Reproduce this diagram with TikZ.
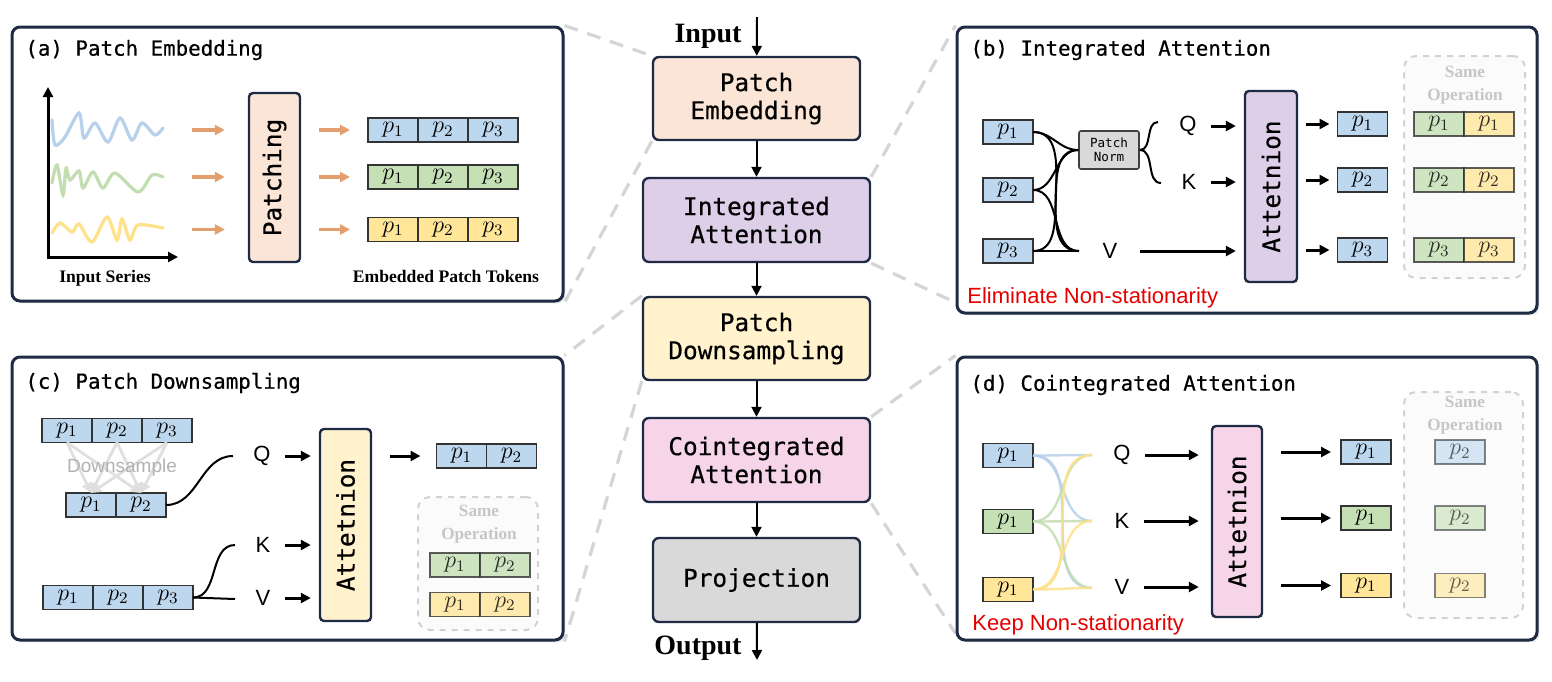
\documentclass[tikz,border=0pt]{standalone}
\usepackage{fontspec}
\usetikzlibrary{positioning,arrows.meta,shadows,backgrounds}

\newfontfamily\monofam{DejaVu Sans Mono}[BoldFont={DejaVu Sans Mono}, BoldFeatures={FakeBold=0.5}]
\newfontfamily\sansfam{Liberation Sans}
\newfontfamily\serifam{Liberation Serif}

\newcommand{\stagefont}{\monofam\bfseries\fontsize{12.2}{14}\selectfont}
\newcommand{\titlefont}{\monofam\bfseries\fontsize{10.4}{12}\selectfont}
\newcommand{\normfont}{\monofam\fontsize{6.3}{7}\selectfont}
\newcommand{\tokfont}{\fontsize{11.5}{12}\selectfont}
\newcommand{\qkvfont}{\sansfam\fontsize{11}{12}\selectfont}
\newcommand{\notefont}{\sansfam\fontsize{11}{12}\selectfont}
\newcommand{\downfont}{\sansfam\fontsize{9.5}{11}\selectfont}
\newcommand{\capfont}{\serifam\bfseries\fontsize{8.8}{10}\selectfont}
\newcommand{\iofont}{\serifam\bfseries\fontsize{14}{16}\selectfont}
\newcommand{\samefont}{\serifam\bfseries\fontsize{8.6}{11.5}\selectfont}

\definecolor{navy}{HTML}{1F2A44}
\definecolor{tokblue}{HTML}{BDD7EE}
\definecolor{tokgreen}{HTML}{C5E0B4}
\definecolor{tokyellow}{HTML}{FFE699}
\definecolor{peach}{HTML}{FBE5D6}
\definecolor{lavender}{HTML}{DDCFE7}
\definecolor{cream}{HTML}{FFF2CC}
\definecolor{pink}{HTML}{F6D5E8}
\definecolor{lightgray}{HTML}{D9D9D9}
\definecolor{arrorange}{HTML}{E3A06E}
\definecolor{dashgray}{HTML}{D5D5D5}
\definecolor{waveblue}{HTML}{B7D0EC}
\definecolor{wavegreen}{HTML}{C2DDB0}
\definecolor{waveyellow}{HTML}{FFE189}

\tikzset{
  panel/.style={draw=navy, line width=1.5pt, rounded corners=4pt, fill=white,
    drop shadow={shadow xshift=1.2pt, shadow yshift=-1.2pt, opacity=0.18}},
  stage/.style={draw=navy, line width=1.2pt, rounded corners=3pt, align=center,
    inner sep=0pt, font=\stagefont},
  attn/.style={draw=navy, line width=1.2pt, rounded corners=2pt, rotate=90,
    inner sep=0pt, font=\stagefont},
  tok/.style={draw=black!80, line width=0.7pt, minimum width=25pt,
    minimum height=12pt, inner sep=0pt, outer sep=0pt, font=\tokfont},
  ptitle/.style={anchor=west, inner sep=0pt, font=\titlefont},
  qkv/.style={inner xsep=7pt, inner ysep=0pt, font=\qkvfont},
  qarr/.style={->, line width=1.5pt, shorten >=4pt},
  link/.style={line width=1pt},
  flow/.style={line width=1.2pt, draw opacity=0.85},
  mainarr/.style={->, line width=1pt},
  oarr/.style={->, draw=arrorange, line width=1.6pt},
  zoomline/.style={draw=dashgray, line width=1.6pt, dash pattern=on 7pt off 5pt},
  samebox/.style={draw=gray!35, dashed, line width=1pt, rounded corners=6pt, fill=gray!3},
  samelbl/.style={align=center, text=gray!45, font=\samefont},
  note/.style={anchor=west, inner sep=0pt, text=red!90!black, font=\notefont},
  caption/.style={font=\capfont},
  wave/.style={line width=1.6pt, line cap=round},
  dsarr/.style={->, draw=gray!25, line width=1.4pt}
}

\begin{document}
\begin{tikzpicture}[x=0.5pt, y=-0.5pt, >={Triangle[length=5pt,width=5pt]}]
\useasboundingbox (0,0) rectangle (1552,681);

% panels
\node[panel, minimum width=275.5pt, minimum height=137pt] (pa) at (287.5,164) {};
\node[panel, minimum width=290pt, minimum height=143pt] (pb) at (1247,170) {};
\node[panel, minimum width=275.5pt, minimum height=141.5pt] (pc) at (287.5,498.5) {};
\node[panel, minimum width=290pt, minimum height=141.5pt] (pd) at (1247,498.5) {};

% main column
\node[stage, fill=peach, minimum width=103.5pt, minimum height=41.5pt] (emb) at (756.5,98.5) {Patch\\Embedding};
\node[stage, fill=lavender, minimum width=113.5pt, minimum height=42pt] (integ) at (756.5,220) {Integrated\\Attention};
\node[stage, fill=cream, minimum width=113.5pt, minimum height=41.5pt] (down) at (756.5,338.5) {Patch\\Downsampling};
\node[stage, fill=pink, minimum width=113.5pt, minimum height=42pt] (coint) at (756.5,460) {Cointegrated\\Attention};
\node[stage, fill=lightgray, minimum width=103.5pt, minimum height=42pt] (proj) at (756.5,580) {Projection};

\coordinate (inpt) at (757,17);
\coordinate (outpt) at (757,660);
\node[font=\iofont] (inlbl) at (708,36) {Input};
\node[font=\iofont] (outlbl) at (698,648) {Output};
\draw[mainarr] (inpt) -- (emb);
\draw[mainarr] (emb) -- (integ);
\draw[mainarr] (integ) -- (down);
\draw[mainarr] (down) -- (coint);
\draw[mainarr] (coint) -- (proj);
\draw[mainarr] (proj) -- (outpt);

% zoom lines
\begin{scope}[on background layer]
\draw[zoomline] (pa.north east) -- (emb.north west);
\draw[zoomline] (emb.south west) -- (pa.south east);
\draw[zoomline] (integ.north east) -- (pb.north west);
\draw[zoomline] (integ.south east) -- ([yshift=6pt]pb.south west);
\draw[zoomline] (down.north west) -- (pc.north east);
\draw[zoomline] (down.south west) -- (pc.south east);
\draw[zoomline] (coint.north east) -- (pd.north west);
\draw[zoomline] (coint.south east) -- ([yshift=4pt]pd.south west);
\end{scope}

% (a) patch embedding
\node[ptitle] (ta) at (25,50) {(a) Patch Embedding};
\coordinate (orig) at (48,257);
\coordinate (ytip) at (48,87);
\coordinate (xtip) at (178,257);
\draw[<->, line width=1.5pt] (ytip) |- (xtip);
\draw[wave, draw=waveblue] plot[smooth] coordinates {(52,120) (55,145) (65,137) (79,113) (84,138) (95,123) (108,142) (120,118) (132,140) (142,123) (155,135) (163,128)};
\draw[wave, draw=wavegreen] plot[smooth] coordinates {(52,183) (57,165) (63,195) (66,168) (70,180) (79,171) (83,188) (93,172) (103,188) (115,173) (138,192) (152,175) (163,177)};
\draw[wave, draw=waveyellow] plot[smooth] coordinates {(52,233) (60,223) (72,232) (79,224) (92,242) (107,217) (117,240) (122,219) (130,240) (138,225) (163,228)};
\coordinate (wb) at (163,130);
\coordinate (wg) at (163,177);
\coordinate (wy) at (163,229.5);
\node[attn, fill=peach, minimum width=84.5pt, minimum height=25.5pt] (patch) at (274.5,177.5) {Patching};
\draw[oarr, shorten <=14.5pt, shorten >=11.5pt] (wb) -- (wb -| patch.north);
\draw[oarr, shorten <=14.5pt, shorten >=11.5pt] (wg) -- (wg -| patch.north);
\draw[oarr, shorten <=14.5pt, shorten >=11.5pt] (wy) -- (wy -| patch.north);
\node[tok, fill=tokblue] (ra1) at (393,130) {$p_1$};
\node[tok, fill=tokblue, right=0pt of ra1] (ra2) {$p_2$};
\node[tok, fill=tokblue, right=0pt of ra2] (ra3) {$p_3$};
\node[tok, fill=tokgreen] (rb1) at (393,177) {$p_1$};
\node[tok, fill=tokgreen, right=0pt of rb1] (rb2) {$p_2$};
\node[tok, fill=tokgreen, right=0pt of rb2] (rb3) {$p_3$};
\node[tok, fill=tokyellow] (rc1) at (393,229.5) {$p_1$};
\node[tok, fill=tokyellow, right=0pt of rc1] (rc2) {$p_2$};
\node[tok, fill=tokyellow, right=0pt of rc2] (rc3) {$p_3$};
\draw[oarr, shorten <=9pt, shorten >=9pt] (patch.south |- ra1) -- (ra1.west);
\draw[oarr, shorten <=9pt, shorten >=9pt] (patch.south |- rb1) -- (rb1.west);
\draw[oarr, shorten <=9pt, shorten >=9pt] (patch.south |- rc1) -- (rc1.west);
\node[caption] (capin) at (105,278) {Input Series};
\node[caption] (captok) at (446,276) {Embedded Patch Tokens};

% (b) integrated attention
\node[ptitle] (tb) at (970,50) {(b) Integrated Attention};
\node[tok, fill=tokblue] (bi1) at (1008,132) {$p_1$};
\node[tok, fill=tokblue] (bi2) at (1008,190) {$p_2$};
\node[tok, fill=tokblue] (bi3) at (1008,251) {$p_3$};
\node[draw=black!75, fill=lightgray, line width=0.8pt, rounded corners=1pt, minimum width=30pt, minimum height=19pt, inner sep=0pt, align=center, font=\normfont] (pn) at (1109,150) {Patch\\Norm};
\coordinate (vin) at (1079,251);
\coordinate (qin) at (1158,122);
\coordinate (kin) at (1161,183);
\draw[link] (bi1.east) to[out=0,in=180] (pn.west);
\draw[link] (bi1.east) to[out=0,in=180] (vin);
\draw[link] (bi2.east) to[out=0,in=180] (pn.west);
\draw[link] (bi2.east) to[out=0,in=180] (vin);
\draw[link] (bi3.east) to[out=0,in=180] (pn.west);
\draw[link] (bi3.east) -- (vin);
\draw[link] (pn.east) to[out=0,in=180] (qin);
\draw[link] (pn.east) to[out=0,in=180] (kin);
\node[qkv] (bq) at (1188,126) {Q};
\node[qkv] (bk) at (1189,182) {K};
\node[qkv] (bv) at (1110,251) {V};
\node[attn, fill=lavender, minimum width=95.5pt, minimum height=26pt] (batt) at (1271,186.5) {Attetnion};
\draw[qarr] (bq.east) -- (bq.east -| batt.north);
\draw[qarr] (bk.east) -- (bk.east -| batt.north);
\draw[qarr, shorten <=4pt] (bv.east) -- (bv.east -| batt.north);
\node[tok, fill=tokblue] (bo1) at (1362.5,124) {$p_1$};
\node[tok, fill=tokblue] (bo2) at (1362.5,180) {$p_2$};
\node[tok, fill=tokblue] (bo3) at (1362.5,250) {$p_3$};
\draw[qarr, shorten <=4pt] (batt.south |- bo1) -- (bo1.west);
\draw[qarr, shorten <=4pt] (batt.south |- bo2) -- (bo2.west);
\draw[qarr, shorten <=4pt] (batt.south |- bo3) -- (bo3.west);
\node[samebox, minimum width=60.5pt, minimum height=111pt] (bs) at (1464.5,167) {};
\node[samelbl] (bsl) at (1465,85) {Same\\Operation};
\node[tok, fill=tokgreen, opacity=0.8] (bs1a) at (1439,124) {$p_1$};
\node[tok, fill=tokyellow, opacity=0.8, right=0pt of bs1a] (bs1b) {$p_1$};
\node[tok, fill=tokgreen, opacity=0.8] (bs2a) at (1439,180) {$p_2$};
\node[tok, fill=tokyellow, opacity=0.8, right=0pt of bs2a] (bs2b) {$p_2$};
\node[tok, fill=tokgreen, opacity=0.8] (bs3a) at (1439,250) {$p_3$};
\node[tok, fill=tokyellow, opacity=0.8, right=0pt of bs3a] (bs3b) {$p_3$};
\node[note] (bnote) at (967,298) {Eliminate Non-stationarity};

% (c) patch downsampling
\node[ptitle] (tc) at (25,383) {(c) Patch Downsampling};
\node[tok, fill=tokblue] (ct1) at (67,430.5) {$p_1$};
\node[tok, fill=tokblue, right=0pt of ct1] (ct2) {$p_2$};
\node[tok, fill=tokblue, right=0pt of ct2] (ct3) {$p_3$};
\node[tok, fill=tokblue] (cb1) at (91,505) {$p_1$};
\node[tok, fill=tokblue, right=0pt of cb1] (cb2) {$p_2$};
\draw[dsarr] (ct1.south) -- (cb1.north);
\draw[dsarr] (ct1.south) -- (cb2.north);
\draw[dsarr] (ct2.south) -- (cb1.north);
\draw[dsarr] (ct2.south) -- (cb2.north);
\draw[dsarr] (ct3.south) -- (cb1.north);
\draw[dsarr] (ct3.south) -- (cb2.north);
\node[text=gray!60, font=\downfont] (dsl) at (122,468) {Downsample};
\node[tok, fill=tokblue] (cl1) at (68,597.5) {$p_1$};
\node[tok, fill=tokblue, right=0pt of cl1] (cl2) {$p_2$};
\node[tok, fill=tokblue, right=0pt of cl2] (cl3) {$p_3$};
\coordinate (cqin) at (233,456);
\coordinate (ckin) at (235,545);
\coordinate (cvin) at (235,599);
\draw[link] (cb2.east) to[out=0,in=180] (cqin);
\draw[link] (cl3.east) to[out=0,in=180] (ckin);
\draw[link] (cl3.east) -- (cvin);
\node[qkv] (cq) at (262,456) {Q};
\node[qkv] (ck) at (263,545) {K};
\node[qkv] (cv) at (263,598) {V};
\node[attn, fill=cream, minimum width=96pt, minimum height=25.5pt] (catt) at (345.5,525) {Attetnion};
\draw[qarr] (cq.east) -- (cq.east -| catt.north);
\draw[qarr] (ck.east) -- (ck.east -| catt.north);
\draw[qarr] (cv.east) -- (cv.east -| catt.north);
\node[tok, fill=tokblue] (co1) at (461.5,456) {$p_1$};
\node[tok, fill=tokblue, right=0pt of co1] (co2) {$p_2$};
\draw[qarr, shorten <=9pt, shorten >=8pt] (catt.south |- co1) -- (co1.west);
\node[samebox, minimum width=60pt, minimum height=66.5pt] (cs) at (478,563.5) {};
\node[samelbl] (csl) at (479,524) {Same\\Operation};
\node[tok, fill=tokgreen, opacity=0.8] (cs1a) at (455,565) {$p_1$};
\node[tok, fill=tokgreen, opacity=0.8, right=0pt of cs1a] (cs1b) {$p_2$};
\node[tok, fill=tokyellow, opacity=0.8] (cs2a) at (455,604.5) {$p_1$};
\node[tok, fill=tokyellow, opacity=0.8, right=0pt of cs2a] (cs2b) {$p_2$};

% (d) cointegrated attention
\node[ptitle] (td) at (970,385) {(d) Cointegrated Attention};
\node[tok, fill=tokblue] (di1) at (1008,455.5) {$p_1$};
\node[tok, fill=tokgreen] (di2) at (1008,521.5) {$p_1$};
\node[tok, fill=tokyellow] (di3) at (1008,589.5) {$p_1$};
\coordinate (dqin) at (1092,455);
\coordinate (dkin) at (1092,521);
\coordinate (dvin) at (1092,588);
\draw[flow, draw=waveblue] (di1.east) to[out=0,in=180] (dqin);
\draw[flow, draw=waveblue] (di1.east) to[out=0,in=180] (dkin);
\draw[flow, draw=waveblue] (di1.east) to[out=0,in=180] (dvin);
\draw[flow, draw=wavegreen] (di2.east) to[out=0,in=180] (dqin);
\draw[flow, draw=wavegreen] (di2.east) to[out=0,in=180] (dkin);
\draw[flow, draw=wavegreen] (di2.east) to[out=0,in=180] (dvin);
\draw[flow, draw=waveyellow] (di3.east) to[out=0,in=180] (dqin);
\draw[flow, draw=waveyellow] (di3.east) to[out=0,in=180] (dkin);
\draw[flow, draw=waveyellow] (di3.east) to[out=0,in=180] (dvin);
\node[qkv] (dq) at (1122,455) {Q};
\node[qkv] (dk) at (1122,521) {K};
\node[qkv] (dv) at (1122,587) {V};
\node[attn, fill=pink, minimum width=95.5pt, minimum height=25pt] (datt) at (1237,521.5) {Attetnion};
\draw[qarr, shorten >=6pt] (dq.east) -- (dq.east -| datt.north);
\draw[qarr, shorten >=6pt] (dk.east) -- (dk.east -| datt.north);
\draw[qarr, shorten >=6pt] (dv.east) -- (dv.east -| datt.north);
\node[tok, fill=tokblue] (do1) at (1366,452) {$p_1$};
\node[tok, fill=tokgreen] (do2) at (1366,518) {$p_1$};
\node[tok, fill=tokyellow] (do3) at (1366,585.5) {$p_1$};
\draw[qarr, shorten <=9pt, shorten >=5pt] (datt.south |- do1) -- (do1.west);
\draw[qarr, shorten <=9pt, shorten >=5pt] (datt.south |- do2) -- (do2.west);
\draw[qarr, shorten <=9pt, shorten >=5pt] (datt.south |- do3) -- (do3.west);
\node[samebox, minimum width=59.5pt, minimum height=113pt] (ds) at (1463.5,505) {};
\node[samelbl] (dsl2) at (1465,415) {Same\\Operation};
\node[tok, fill=tokblue, opacity=0.6] (ds1) at (1460,452) {$p_2$};
\node[tok, fill=tokgreen, opacity=0.6] (ds2) at (1460,518) {$p_2$};
\node[tok, fill=tokyellow, opacity=0.6] (ds3) at (1460,585.5) {$p_2$};
\node[note] (dnote) at (972,625) {Keep Non-stationarity};
\end{tikzpicture}
\end{document}
